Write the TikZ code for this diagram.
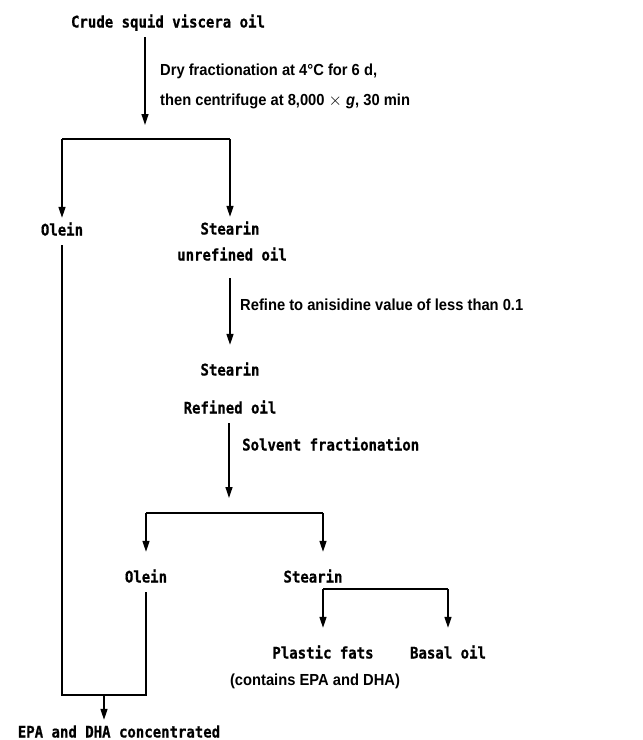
\documentclass[tikz,border=0pt]{standalone}
\usepackage{fontspec}
\setmainfont{Liberation Sans}
\newfontfamily\stagefamily{DejaVu Sans Mono}[FakeBold=0.6, FakeStretch=0.875]
\newfontfamily\notefamily{Liberation Sans}[FakeStretch=0.92]
\usepackage{tikz}
\usetikzlibrary{
  arrows.meta,
  positioning,
  calc
}

\tikzset{
  stage/.style={font=\fontsize{16}{18}\selectfont\stagefamily\bfseries,
    text height=11.5pt, text depth=3.5pt, inner xsep=2pt, inner ysep=6pt},
  note/.style={font=\fontsize{16}{30}\selectfont\notefamily\bfseries,
    align=left, inner sep=0pt},
  flow/.style={-{Triangle[length=11pt,width=7pt]}, line width=1.2pt},
  bar/.style={line width=1.2pt}
}

\begin{document}
\begin{tikzpicture}[x=1pt,y=-1pt]
  \useasboundingbox (0,0) rectangle (643,740);
  % Stages
  \node[stage] (crude) at (168,23.5) {Crude squid viscera oil};
  \node[stage] (olein1) at (62,231.5) {Olein};
  \node[stage] (stearin1) at (230,230.5) {Stearin};
  \node[stage] (unrefined) at (232,256.5) {unrefined oil};
  \node[stage] (stearin2) at (230,371.5) {Stearin};
  \node[stage] (refined) at (230,409.5) {Refined oil};
  \node[stage] (olein2) at (146,578.5) {Olein};
  \node[stage] (stearin3) at (313,578.5) {Stearin};
  \node[stage] (plastic) at (323,654.5) {Plastic fats};
  \node[note] (contains) at (315,681) {(contains EPA and DHA)};
  \node[stage] (basal) at (448,654.5) {Basal oil};
  \node[stage] (epa) at (119,733.5) {EPA and DHA concentrated};
  % Steps
  \node[note, anchor=west] (dryNote) at (160,86)
       {Dry fractionation at 4°C for 6 d,\\then centrifuge at 8,000 $\times$ \textit{g}, 30 min};
  \node[note, anchor=west] (refineNote) at (240,305)
       {Refine to anisidine value of less than 0.1};
  \node[stage, anchor=west] (solventNote) at (240,446.5) {Solvent fractionation};
  % Split points
  \coordinate (split1) at (145,125);
  \coordinate (fork1) at (145,139);
  \coordinate (split2) at (229,498);
  \coordinate (fork2) at (229,513);
  \coordinate (fork3) at (323,589);
  \coordinate (join) at (104,695);
  % Dry fractionation
  \draw[flow] (crude.south -| split1) -- (split1);
  \draw[bar] (olein1 |- fork1) -- (stearin1 |- fork1);
  \draw[flow] (olein1 |- fork1) -- (olein1);
  \draw[flow] (stearin1 |- fork1) -- (stearin1);
  % Refining
  \draw[flow, shorten <=8pt, shorten >=13pt] (unrefined.south -| stearin2) -- (stearin2);
  % Solvent fractionation
  \draw[flow] (refined.south -| split2) -- (split2);
  \draw[bar] (olein2 |- fork2) -- ([xshift=10pt]stearin3.north |- fork2);
  \draw[flow, shorten >=13pt] (olein2 |- fork2) -- (olein2);
  \draw[flow, shorten >=13pt] ([xshift=10pt]stearin3.north |- fork2) -- ([xshift=10pt]stearin3.north);
  \draw[bar] (plastic |- fork3) -- (basal |- fork3);
  \draw[flow, shorten >=13pt] (plastic |- fork3) -- (plastic);
  \draw[flow, shorten >=13pt] (basal |- fork3) -- (basal);
  % Both oleins
  \draw[bar] (olein1) -- (olein1 |- join) -- (olein2 |- join) -- (olein2);
  \draw[flow] (join) -- (join |- epa.north);
\end{tikzpicture}
\end{document}
